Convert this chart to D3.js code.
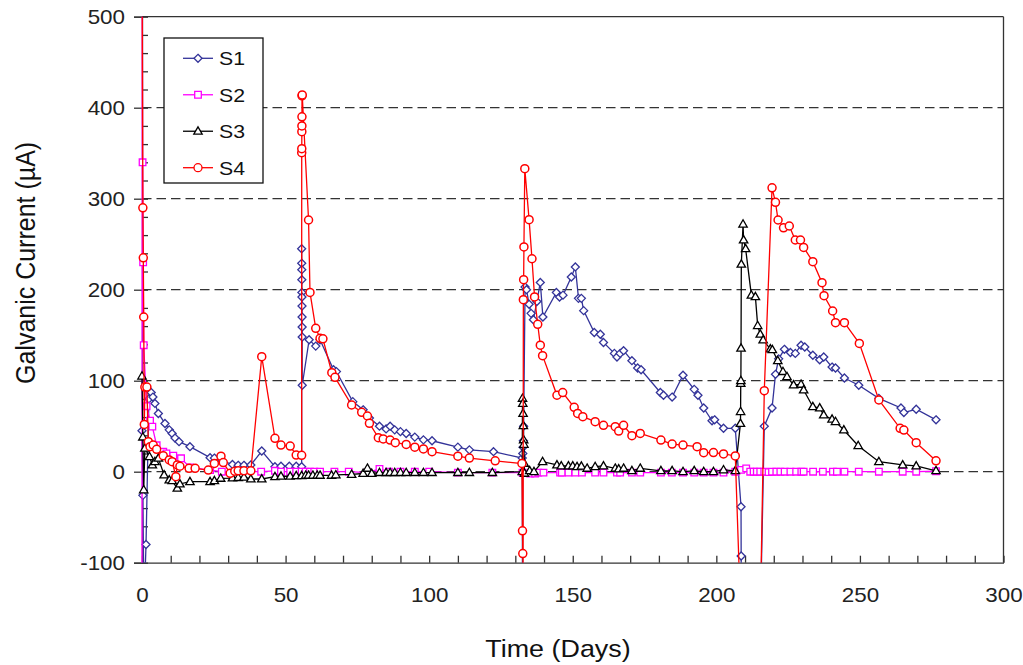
<!DOCTYPE html>
<html><head><meta charset="utf-8">
<script src="https://cdn.jsdelivr.net/npm/d3@7/dist/d3.min.js"></script>
<style>
html,body{margin:0;padding:0;background:#fff;}
svg{display:block;font-family:"Liberation Sans",Arial,sans-serif;}
</style></head>
<body>
<svg id="chart" width="1023" height="665"></svg>
<script>
// ---------- data: [day, current µA] ----------
const seriesNames = ["S1", "S2", "S3", "S4"];
const xTickLabels = [0, 50, 100, 150, 200, 250, 300];
const yTickLabels = [-100, 0, 100, 200, 300, 400, 500];
const gridValues = [0, 100, 200, 300, 400];

const s1 = [[0,45],[0.3,-26],[0.7,-150],[1.4,-80],[2.4,80],[3.2,87],[3.8,82],[4.5,75],[5.7,64],[8,53],[9.5,46],[10.5,42],[11.5,37],[12.9,33],[16.7,27.5],[23.7,15.4],[25.2,15],[27.8,12],[31.5,8],[33.5,7],[35.5,7],[37.9,7.4],[41.7,22.7],[46.3,5.5],[48.4,6],[51.3,6],[53.7,6],[55.6,5.5],
[55.6,245],[55.62,229],[55.64,222],[55.66,211],[55.68,197],[55.7,192],[55.72,182],[55.74,170],[55.76,159],[55.78,148],[55.8,95],[58.2,145],[60.5,138],[62,145],[66.7,112],[67.7,110],[73.4,77],[77,68],[79.2,59],[82.7,50],[85,47],[86.4,50],[88,46],[90,44],[92,42],[95,38],[98,35],[101,34],[110,27],[114,24],[122.4,22],[132.4,15],
[132.5,-130],[132.6,20],[132.7,27],[132.8,34],[132.9,50],[133.4,203],[133.9,200],[134.8,184],[135.5,174],[136.3,167],[137.5,187],[138.7,208],[139.6,170],[144.3,197],[145.4,192],[146.6,194],[149.5,214],[150.9,225],[152,190.5],[153,190.5],[153.8,177],[157.5,153],[159.6,151],[160.7,142],[164.5,130],[165.4,126],[166.5,130],[167.7,133],[170.6,122],[172.6,114],[173.8,112],[180.5,87],[181.6,84],[184.6,82],[188.4,106],[192.3,90.5],[193.6,84],[195.6,70],[198.5,56],[199.4,57],[202.5,47.7],[206.6,47.7],[208.6,-38.5],[208.65,-92.6],[208.7,-150],[215.4,-150],[216.7,50],[219.4,70],[220.6,107],[221.7,124],[223.7,134.5],[225.8,131],[227.5,130],[229.5,139],[230.8,137],[233.6,128],[236,123],[237.4,126],[240.3,115],[241.5,114],[244.6,103],[249.6,95],[256.6,80.6],[264.3,70],[265.3,65],[269.6,68.6],[276.5,57]];

const s2 = [[0,-200],[0.1,600],[0.2,340],[0.4,230],[0.6,139],[1.6,72],[2.8,56],[3.6,49.5],[5.1,29],[7.4,22],[8.5,20],[10.9,17.6],[13.6,14.7],[16.7,4.8],[23.7,1.8],[27.8,0],[41.5,0],[46.3,1],[48.4,0],[51.6,0],[53.7,0],[55.6,0],[57,0],[58.5,0],[60,0],[62,0],[67,0],[72,0],[78.5,-1],[82.7,3],[86,0],[90,0],[95,0],[100,0],[110,-1],[122,-1],[132.5,-1],[135.2,-2],[136.9,-2],[138,-1],[139.8,-1],[145.6,-1],[146.2,-1],[148.5,-1],[150.9,-1],[153.2,-1],[157.8,-1],[160.7,-1],[165.4,-1],[166.5,-1],[170.6,-1],[173.5,-1],[180.7,-1],[184.5,-1],[188.4,-1],[192.3,-1],[195.6,-1],[199,-1],[202.5,-1],[206.6,0],[208.6,2],[210.4,3.7],[211.8,0],[213,0],[214.1,0],[215.3,0],[216.7,0],[218.2,-0.5],[219.4,0],[220.9,0],[222.3,0],[223.8,0],[225.8,0],[227.8,0],[229.6,0],[230.4,0],[233.7,0],[237.1,0],[240.6,0],[242,0],[244.6,0],[249.6,0],[256.6,0],[264.9,0],[269.6,0],[276.5,0.5]];

const s3 = [[0,105],[0.3,38],[0.6,-20],[1.0,25.7],[2.6,16.5],[3.6,7.4],[4.5,11],[5.7,14.7],[7.7,-3.6],[9.5,-9.1],[10.5,-10],[12.3,-18.2],[13.2,-13.5],[16.7,-11],[23.7,-11],[25.2,-10],[27.4,-7.3],[31.5,-7],[33.5,-6.5],[35.5,-6],[37.9,-8],[41.7,-8],[46.3,-5.5],[48.4,-5],[51.6,-5],[53.7,-4.5],[55.6,-4.5],
[57,-4],[58,-4],[59.5,-4],[61,-4],[62,-4],[66,-4],[67.5,-3.5],[73,-3],[77,-2],[78.5,3.7],[80,-2],[82.7,-1],[85,-1],[86.4,-1],[88,-1],[90,-1],[92,-1],[95,-1],[98,-1],[101,-1],[110,-1],[114,-1],[122,-1],
[132.4,0],[132.5,80.6],[132.6,75],[132.7,64],[132.8,50.5],[132.9,35],[133,30],[133.1,9.2],[133.2,-1.8],[135,1],[136.5,0],[139.5,11],[144.5,7.4],[146,6.3],[148.5,6.3],[150,6.3],[151.5,5.5],[153,6],[155,3.7],[157.8,5.5],[160.7,6.3],[164.8,3.7],[166,3],[167.7,3.7],[170.6,1],[173.5,3.7],[180.7,1],[184.6,1],[188.4,0],[192.3,1],[195.6,0],[199,0],[202.5,2],[206.6,1],
[208.4,53],[208.45,66],[208.5,97],[208.55,100],[208.6,135.6],[208.7,228],[209.3,272],[209.5,254.6],[210.2,245],[212.2,194],[213.6,192.3],[214.4,160.5],[215.3,151],[216.3,144.7],[218.8,134.8],[219.5,134],[221.4,122],[223.2,110],[224.6,104.4],[226.9,95.3],[229.5,96],[230.4,89.8],[233.6,71.4],[236,70],[237.4,62.3],[240.3,57.6],[241.5,55],[244.4,45.8],[249.4,28.6],[256.6,11],[264.9,7.4],[269.6,6.3],[276.5,1]];

const s4 = [[0,600],[0.3,290],[0.45,235],[0.6,170],[0.8,52],[1.0,93],[1.7,93],[2.2,33],[2.8,27.5],[3.9,29.3],[5.1,24.6],[7.4,17.6],[9.5,12.9],[10.5,11],[11.8,-5.5],[12.3,7.4],[13.2,6],[16.4,3.7],[18.5,3.7],[23.1,1.8],[25.2,9],[27.5,17],[28.3,10],[30.7,-1.8],[32.3,0.5],[33.5,1],[35.5,1],[37.9,1],[41.7,126.4],[46.3,36.7],[48.4,29.3],[51.6,28.2],[53.7,18.3],[55.6,18],
[55.62,350.5],[55.64,355],[55.66,373.6],[55.68,380],[55.7,390],[55.72,413],[55.8,414],[58,276.6],[58.5,197],[60.5,157.6],[62,146.6],[63,146],[66.1,108.8],[67.2,103.7],[73,73.3],[76.5,65.3],[78.5,61.2],[79.2,53.2],[82.3,37.4],[84,36],[86.4,34.8],[88.2,31.9],[92,30],[95,27],[98,25],[101,22],[110,17],[114,15],[123,12],[132.3,9],
[132.5,-65],[132.6,-90],[132.7,-110],[132.8,189],[132.9,211],[133,247],[133.3,333],[134.8,277],[135.8,234],[136.7,192],[137.8,162],[138.7,139],[139.5,127.5],[144.5,84],[146.5,87],[150.5,70.8],[151.7,64],[153.5,60.5],[157.8,55],[160.7,51],[164.8,49.5],[166,44.7],[167.7,51],[170.6,39.6],[173.5,42],[180.7,34.8],[184.6,30.4],[188.4,29.3],[193.3,27.5],[195.6,20.9],[199,21],[202.5,19.5],[206.6,17.3],[208.4,-150],[215.35,-150],
[216.7,89],[219.4,312],[220.6,296],[221.5,276.6],[223.4,268],[225.4,270],[227.5,254.6],[229.3,254.6],[230.4,246.5],[233.6,230.8],[236.8,207.7],[237.5,193.4],[240.5,176.6],[241.5,163.7],[244.6,163.7],[249.8,141],[256.6,78.8],[264,47.7],[265.3,45.8],[269.6,31.9],[276.5,12]];

const seriesData = [s1, s2, s3, s4];
const seriesColors = ["#333399", "#ff00ff", "#000000", "#ff0000"];
const seriesMarkers = ["diamond", "square", "triangle", "circle"];

// ---------- layout ----------
const svg = d3.select("#chart");
const pL = 142, pR = 1003.5, pT = 16.7, pB = 562.7;
const x = d3.scaleLinear().domain([0, 300]).range([pL, pR]);
const y = d3.scaleLinear().domain([-100, 500]).range([pB, pT]);
const axisColor = "#333";
const fmt = d => String(d);

// gridlines
svg.append("g").selectAll("line").data(gridValues).join("line")
  .attr("x1", pL).attr("x2", pR)
  .attr("y1", d => y(d)).attr("y2", d => y(d))
  .attr("stroke", axisColor).attr("stroke-width", 1.3).attr("stroke-dasharray", "9.5,5");

// frame top + right
svg.append("line").attr("x1", pL).attr("x2", pR).attr("y1", y(500)).attr("y2", y(500))
  .attr("stroke", axisColor).attr("stroke-width", 1.3);
svg.append("line").attr("x1", pR).attr("x2", pR).attr("y1", y(500)).attr("y2", y(-100))
  .attr("stroke", axisColor).attr("stroke-width", 1.3);

// y axis major (outward) with labels
const yAxis = svg.append("g").attr("transform", `translate(${pL},0)`)
  .call(d3.axisLeft(y).tickValues(yTickLabels).tickSize(8).tickPadding(10).tickFormat(fmt));
yAxis.select(".domain").attr("stroke", axisColor).attr("stroke-width", 1.3);
yAxis.selectAll(".tick line").attr("stroke", axisColor).attr("stroke-width", 1.3);
yAxis.selectAll(".tick text").attr("x", null).attr("dy", "0.36em")
  .attr("transform", "translate(-17,0) scale(1.12,1)")
  .attr("font-size", 20).attr("fill", "#222").attr("font-family", "Liberation Sans, Arial, sans-serif");

// y minor ticks (inward)
const yMinor = d3.range(-100, 501, 20);
const yMin = svg.append("g").attr("transform", `translate(${pL},0)`)
  .call(d3.axisRight(y).tickValues(yMinor).tickSize(6).tickFormat(""));
yMin.select(".domain").remove();
yMin.selectAll(".tick line").attr("stroke", axisColor).attr("stroke-width", 1.3);

// x ticks (inward, every 10)
const xMinor = d3.range(0, 301, 10);
const xIn = svg.append("g").attr("transform", `translate(0,${pB})`)
  .call(d3.axisTop(x).tickValues(xMinor).tickSize(7).tickSizeOuter(0).tickFormat(""));
xIn.select(".domain").attr("stroke", axisColor).attr("stroke-width", 1.3);
xIn.selectAll(".tick line").attr("stroke", axisColor).attr("stroke-width", 1.3);

// x labels
const xLab = svg.append("g").attr("transform", `translate(0,${pB})`)
  .call(d3.axisBottom(x).tickValues(xTickLabels).tickSize(0).tickFormat(fmt));
xLab.select(".domain").remove();
xLab.selectAll(".tick text").attr("y", null).attr("dy", null)
  .attr("transform", "translate(0,39) scale(1.12,1)")
  .attr("font-size", 20).attr("fill", "#222").attr("font-family", "Liberation Sans, Arial, sans-serif");

// titles
svg.append("text").text("Time (Days)")
  .attr("transform", "translate(558,656.5) scale(1.12,1)")
  .attr("text-anchor", "middle").attr("font-size", 24).attr("fill", "#111");
svg.append("text").text("Galvanic Current (\u00b5A)")
  .attr("transform", "translate(35,384) scale(1.12,1) rotate(-90)")
  .attr("text-anchor", "start").attr("font-size", 25).attr("fill", "#111");

// clip
svg.append("clipPath").attr("id", "plotclip").append("rect")
  .attr("x", pL - 12).attr("y", pT).attr("width", pR - pL + 14).attr("height", pB - pT);

function markerPath(type) {
  if (type === "diamond") return "M0,-4L4,0L0,4L-4,0Z";
  if (type === "square") return "M-3.3,-3.3H3.3V3.3H-3.3Z";
  if (type === "triangle") return "M0,-4.4L4.2,2.9H-4.2Z";
  return "M4,0A4,4 0 1,1 -4,0A4,4 0 1,1 4,0Z";
}

const plot = svg.append("g").attr("clip-path", "url(#plotclip)");
const line = d3.line().x(d => x(d[0])).y(d => y(d[1]));
seriesData.forEach((data, i) => {
  const g = plot.append("g");
  g.append("path").datum(data).attr("d", line)
    .attr("fill", "none").attr("stroke", seriesColors[i]).attr("stroke-width", 1.3);
  g.selectAll("path.m").data(data.filter(d => d[1] >= -100 && d[1] <= 500)).join("path")
    .attr("class", "m")
    .attr("transform", d => `translate(${x(d[0])},${y(d[1])})`)
    .attr("d", markerPath(seriesMarkers[i]))
    .attr("fill", "#fff").attr("stroke", seriesColors[i]).attr("stroke-width", i === 3 ? 1.5 : 1.3);
});

// legend
const legend = svg.append("g");
legend.append("rect").attr("x", 164).attr("y", 38).attr("width", 99).attr("height", 145)
  .attr("fill", "#fff").attr("stroke", "#111").attr("stroke-width", 1.3);
const legY = d3.scalePoint().domain(seriesNames).range([58.3, 167.7]);
seriesNames.forEach((name, i) => {
  const cy = legY(name);
  legend.append("line").attr("x1", 183).attr("x2", 213).attr("y1", cy).attr("y2", cy)
    .attr("stroke", seriesColors[i]).attr("stroke-width", 1.3);
  legend.append("path").attr("transform", `translate(198,${cy})`).attr("d", markerPath(seriesMarkers[i]))
    .attr("fill", "#fff").attr("stroke", seriesColors[i]).attr("stroke-width", 1.3);
  legend.append("text").text(name)
    .attr("transform", `translate(219,${cy + 6.8}) scale(1.12,1)`)
    .attr("font-size", 19).attr("fill", "#111");
});
</script>
</body></html>
